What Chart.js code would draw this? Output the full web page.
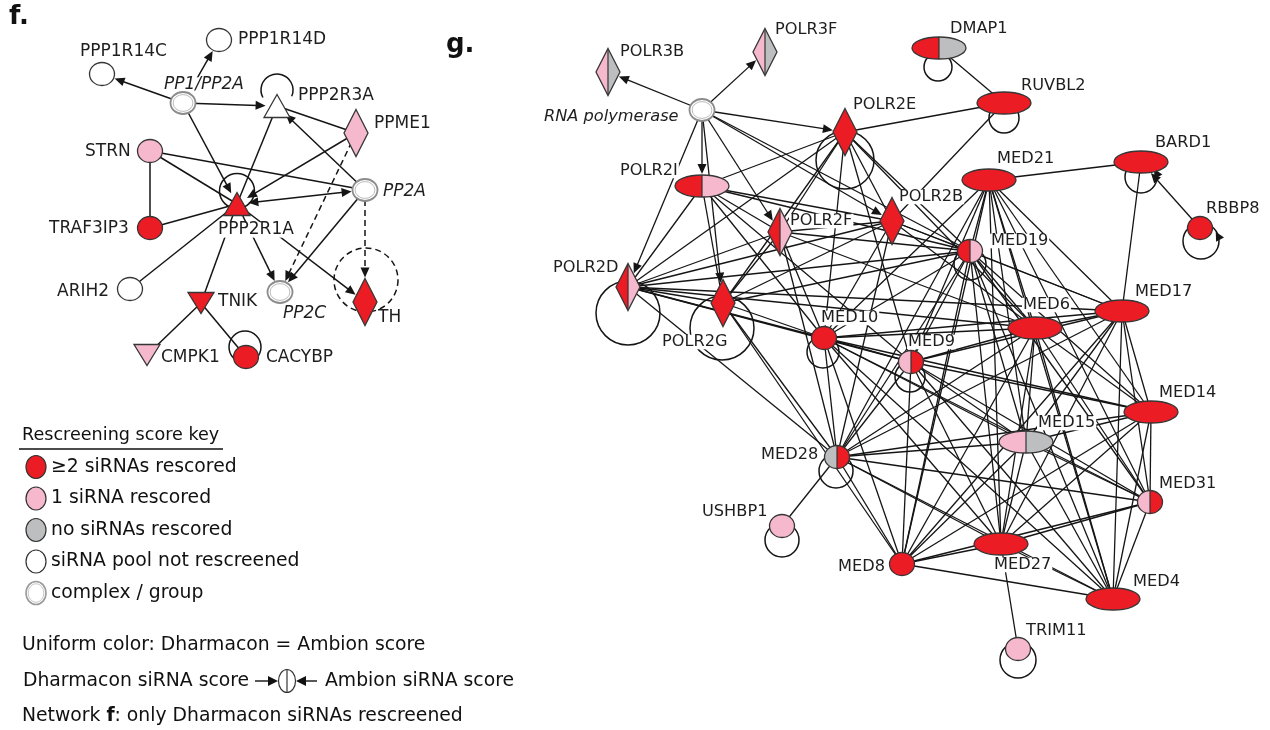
<!DOCTYPE html>
<html>
<head>
<meta charset="utf-8">
<script src="https://cdn.jsdelivr.net/npm/chart.js"></script>
<style>
  html, body { margin: 0; padding: 0; background: #fff; }
  canvas { display: block; }
</style>
</head>
<body>
<canvas id="net" width="1270" height="730"></canvas>
<script>
// ---- nodes (panel f first, then panel g) ----
const nodeNames = ['PPP1R14C','PPP1R14D','PP1/PP2A','PPP2R3A','PPME1','STRN','PP2A','PPP2R1A','TRAF3IP3','ARIH2','TNIK','PP2C','TH','CMPK1','CACYBP',
  'POLR3B','POLR3F','RNA polymerase','POLR2E','DMAP1','RUVBL2','POLR2I','POLR2F','POLR2B','MED21','BARD1','RBBP8','MED19','POLR2D','POLR2G',
  'MED10','MED6','MED17','MED9','MED14','MED15','MED28','MED31','USHBP1','MED27','MED8','MED4','TRIM11'];
const nodeX = [102,219,183,277,356,150,365,237,150,130,201,280,365,147,246,
  608,765,702,845,939,1004,702,780,892,989,1141,1200,970,628,723,
  824,1035,1122,911,1151,1026,837,1150,782,1001,902,1113,1018];
const nodeY = [74,40,103,106,133,151,190,204,228,289,303,292,302,355,357,
  72,52,110,132,48,103,186,232,221,180,162,228,251,287,303,
  338,328,311,362,412,442,457,502,526,544,564,599,649];
const nodeShape = ['circle','circle','complex','triUp','diamond','circle','complex','triUp','circle','circle','triDown','complex','diamond','triDown','circle',
  'diamond','diamond','complex','diamond','ellipse','ellipse','ellipse','diamond','diamond','ellipse','ellipse','circle','circle','diamond','diamond',
  'circle','ellipse','ellipse','circle','ellipse','ellipse','circle','circle','circle','ellipse','circle','ellipse','circle'];
const nodePanel = nodeNames.map((n, i) => i < 15 ? 'f' : 'g');
// 2 = >=2 siRNAs rescored, 1 = 1 siRNA, 0 = none, null = not rescreened / group
const dharmaconScore = [null,null,null,null,1,1,null,2,2,null,2,null,2,1,2,
  1,1,null,2,2,2,2,2,2,2,2,2,2,2,2,2,2,2,1,2,1,0,1,1,2,2,2,1];
const ambionScore = [null,null,null,null,1,1,null,2,2,null,2,null,2,1,2,
  0,0,null,2,0,2,1,1,2,2,2,2,1,1,2,2,2,2,2,2,0,2,2,1,2,2,2,1];
const italicNames = ['PP1/PP2A','PP2A','PP2C','RNA polymerase'];

// ---- edges ----
// '-' plain, '>' arrow at target, '<>' both ends, 'd>' dashed arrow
const edgesF = [
  ['PP1/PP2A','PPP1R14C','>'], ['PP1/PP2A','PPP1R14D','>'], ['PP1/PP2A','PPP2R3A','>'],
  ['PP1/PP2A','PPP2R1A','>'], ['PPME1','PPP2R3A','-'], ['PP2A','PPP2R3A','>'],
  ['PPP2R1A','PPP2R3A','-'], ['PPME1','PPP2R1A','>'], ['PPME1','PP2C','d>'],
  ['STRN','PPP2R1A','-'], ['STRN','PP2A','-'], ['STRN','TRAF3IP3','-'],
  ['TRAF3IP3','PPP2R1A','-'], ['PPP2R1A','PP2A','<>'], ['ARIH2','PPP2R1A','-'],
  ['PPP2R1A','TNIK','-'], ['PPP2R1A','PP2C','>'], ['PPP2R1A','TH','>'],
  ['PP2A','PP2C','>'], ['PP2A','TH','d>'], ['TNIK','CMPK1','-'], ['TNIK','CACYBP','-']
];
const rnaPolTargets = ['POLR3B','POLR3F','POLR2E','POLR2I','POLR2F','POLR2B','POLR2D','POLR2G'];
const polII = ['POLR2I','POLR2F','POLR2B','POLR2E','POLR2D','POLR2G'];
const mediator = ['MED21','MED19','MED10','MED6','MED17','MED9','MED14','MED15','MED28','MED31','MED27','MED8','MED4'];
const polMedLinks = [
  ['POLR2D','MED10'], ['POLR2D','MED19'], ['POLR2D','MED9'], ['POLR2D','MED6'], ['POLR2D','MED17'], ['POLR2D','MED28'],
  ['POLR2G','MED10'], ['POLR2G','MED19'], ['POLR2G','MED28'], ['POLR2G','MED8'],
  ['POLR2I','MED10'], ['POLR2I','MED19'], ['POLR2I','MED9'],
  ['POLR2E','MED10'], ['POLR2E','MED19'], ['POLR2E','MED9'], ['POLR2E','MED6'],
  ['POLR2F','MED19'], ['POLR2F','MED10'], ['POLR2F','MED6'], ['POLR2F','MED28'],
  ['POLR2B','MED19'], ['POLR2B','MED10'], ['POLR2B','MED6'], ['POLR2B','MED28'], ['POLR2B','MED17'],
  ['RNA polymerase','MED19']
];
const otherLinks = [
  ['DMAP1','RUVBL2','-'], ['RUVBL2','POLR2E','-'], ['RUVBL2','POLR2B','-'],
  ['MED21','BARD1','-'], ['BARD1','MED17','-'], ['RBBP8','BARD1','>'],
  ['MED28','USHBP1','-'], ['MED27','TRIM11','-']
];
const selfLoops = ['PPP2R3A','PPP2R1A','TH','CACYBP','DMAP1','RUVBL2','POLR2E','BARD1','RBBP8',
  'MED19','POLR2D','POLR2G','MED10','MED9','MED28','USHBP1','TRIM11'];

// ---- legend ----
const keyLabels = ['\u22652 siRNAs rescored','1 siRNA rescored','no siRNAs rescored','siRNA pool not rescreened','complex / group'];
const keyScores = [2, 1, 0, null, 'group'];

// ---- styling / layout (not data) ----
const RED = '#ec1c24', PINK = '#f5b8cc', GRAY = '#bdbec0', INK = '#151515';
const FONT = '"DejaVu Sans", Verdana, sans-serif';
const shapeSize = {
  circle: [12.5, 11.5], ellipse: [27, 11], diamond: [12, 23.5],
  triUp: [13, 11.5], triDown: [13, 10.5], complex: [12.5, 11]
};
// loop: [dx, dy, r, startDeg, endDeg, dashed, arrow]
const loopStyle = {
  PPP2R3A: [0,-16,16,152,383,false,false], PPP2R1A: [0,-13,17.5,0,360,false,false],
  TH: [1,-22,32,0,360,true,false], CACYBP: [-1,-10,16,0,360,false,false],
  DMAP1: [-1,19,14,0,360,false,false], RUVBL2: [0,15,15,0,360,false,false],
  POLR2E: [0,28,29,0,360,false,false], BARD1: [0,15,16,0,360,false,true],
  RBBP8: [1,13,18,0,360,false,true], MED19: [0,13,16,0,360,false,false],
  POLR2D: [0,26,32,0,360,false,false], POLR2G: [-1,25,32,0,360,false,false],
  MED10: [-1,14,16,0,360,false,false], MED9: [-1,15,15,0,360,false,false],
  MED28: [-1,14,17,0,360,false,false], USHBP1: [0,14,17,0,360,false,false],
  TRIM11: [0,11,18,0,360,false,false]
};
const labelAt = {
  'PPP1R14C':[80,52], 'PPP1R14D':[238,40], 'PP1/PP2A':[164,85], 'PPP2R3A':[298,96], 'PPME1':[374,124],
  'STRN':[85,152], 'PP2A':[383,192], 'PPP2R1A':[218,230], 'TRAF3IP3':[49,229], 'ARIH2':[57,292],
  'TNIK':[218,302], 'PP2C':[283,314], 'TH':[378,318], 'CMPK1':[161,358], 'CACYBP':[266,358],
  'POLR3B':[620,52], 'POLR3F':[775,30], 'RNA polymerase':[544,117], 'POLR2E':[853,105], 'DMAP1':[950,29],
  'RUVBL2':[1021,86], 'POLR2I':[620,171], 'POLR2F':[790,221], 'POLR2B':[899,197], 'MED21':[997,159],
  'BARD1':[1155,143], 'RBBP8':[1206,209], 'MED19':[991,241], 'POLR2D':[553,268], 'POLR2G':[662,342],
  'MED10':[821,318], 'MED6':[1023,305], 'MED17':[1135,292], 'MED9':[908,342], 'MED14':[1159,393],
  'MED15':[1038,423], 'MED28':[761,455], 'MED31':[1159,484], 'USHBP1':[702,512], 'MED27':[994,565],
  'MED8':[838,567], 'MED4':[1133,582], 'TRIM11':[1026,631]
};

function scoreFill(s) { return s === 2 ? RED : s === 1 ? PINK : s === 0 ? GRAY : '#ffffff'; }

function shapePath(ctx, shape, x, y) {
  const [hw, hh] = shapeSize[shape];
  ctx.beginPath();
  if (shape === 'diamond') {
    ctx.moveTo(x, y - hh); ctx.lineTo(x + hw, y); ctx.lineTo(x, y + hh); ctx.lineTo(x - hw, y); ctx.closePath();
  } else if (shape === 'triUp') {
    ctx.moveTo(x, y - hh); ctx.lineTo(x + hw, y + hh); ctx.lineTo(x - hw, y + hh); ctx.closePath();
  } else if (shape === 'triDown') {
    ctx.moveTo(x - hw, y - hh); ctx.lineTo(x + hw, y - hh); ctx.lineTo(x, y + hh); ctx.closePath();
  } else {
    ctx.ellipse(x, y, hw, hh, 0, 0, Math.PI * 2);
  }
}

function drawNode(ctx, shape, x, y, left, right) {
  const [hw, hh] = shapeSize[shape];
  if (shape === 'complex') {
    ctx.fillStyle = '#fff';
    shapePath(ctx, 'complex', x, y); ctx.fill();
    ctx.lineWidth = 1.8; ctx.strokeStyle = '#8c8c8c'; ctx.stroke();
    ctx.beginPath(); ctx.ellipse(x, y, hw - 2.6, hh - 2.6, 0, 0, Math.PI * 2);
    ctx.lineWidth = 1; ctx.strokeStyle = '#bdbdbd'; ctx.stroke();
    return;
  }
  ctx.save();
  shapePath(ctx, shape, x, y);
  ctx.clip();
  ctx.fillStyle = scoreFill(left);
  ctx.fillRect(x - hw - 2, y - hh - 2, hw + 2, 2 * hh + 4);
  ctx.fillStyle = scoreFill(right);
  ctx.fillRect(x, y - hh - 2, hw + 2, 2 * hh + 4);
  if (left !== right) {
    ctx.beginPath(); ctx.moveTo(x, y - hh); ctx.lineTo(x, y + hh);
    ctx.lineWidth = 1.2; ctx.strokeStyle = '#333'; ctx.stroke();
  }
  ctx.restore();
  shapePath(ctx, shape, x, y);
  ctx.lineWidth = 1.3; ctx.strokeStyle = '#363636'; ctx.stroke();
}

function boundaryDist(shape, ux, uy) {
  const [hw, hh] = shapeSize[shape];
  if (shape === 'diamond') return 1 / (Math.abs(ux) / hw + Math.abs(uy) / hh);
  if (shape === 'triUp' || shape === 'triDown') return 1 / Math.sqrt((ux / (hw * 0.8)) ** 2 + (uy / hh) ** 2);
  return 1 / Math.sqrt((ux / hw) ** 2 + (uy / hh) ** 2);
}

function arrowHead(ctx, x, y, ang, len, w) {
  const c = Math.cos(ang), s = Math.sin(ang);
  ctx.beginPath();
  ctx.moveTo(x, y);
  ctx.lineTo(x - len * c + w * s, y - len * s - w * c);
  ctx.lineTo(x - len * c - w * s, y - len * s + w * c);
  ctx.closePath();
  ctx.fill();
}

const networkPlugin = {
  id: 'network',
  afterDatasetsDraw(chart) {
    const ctx = chart.ctx;
    const sx = chart.scales.x, sy = chart.scales.y;
    const X = v => sx.getPixelForValue(v), Y = v => sy.getPixelForValue(v);
    const pts = chart.getDatasetMeta(0).data;
    const idx = name => nodeNames.indexOf(name);
    const P = name => { const e = pts[idx(name)]; return { x: e.x, y: e.y }; };

    // build the edge table
    const edges = edgesF.slice();
    rnaPolTargets.forEach(t => edges.push(['RNA polymerase', t, '>']));
    for (let i = 0; i < polII.length; i++)
      for (let j = i + 1; j < polII.length; j++) edges.push([polII[i], polII[j], '-']);
    polMedLinks.forEach(l => edges.push([l[0], l[1], '-']));
    for (let i = 0; i < mediator.length; i++)
      for (let j = i + 1; j < mediator.length; j++) edges.push([mediator[i], mediator[j], '-']);
    otherLinks.forEach(l => edges.push(l));

    ctx.save();
    ctx.strokeStyle = INK; ctx.fillStyle = INK; ctx.lineCap = 'butt';
    edges.forEach(([a, b, kind]) => {
      const p = P(a), q = P(b);
      const dx = q.x - p.x, dy = q.y - p.y, d = Math.hypot(dx, dy);
      const ux = dx / d, uy = dy / d, ang = Math.atan2(dy, dx);
      let sxp = p.x, syp = p.y, exp = q.x, eyp = q.y;
      const len = 10, w = 4.5;
      const arrowEnd = kind === '>' || kind === '<>' || kind === 'd>';
      const arrowStart = kind === '<>';
      let tipE, tipS;
      if (arrowEnd) {
        const bd = boundaryDist(nodeShape[idx(b)], ux, uy) + 1;
        tipE = { x: q.x - ux * bd, y: q.y - uy * bd };
        exp = tipE.x - ux * len * 0.8; eyp = tipE.y - uy * len * 0.8;
      }
      if (arrowStart) {
        const bd = boundaryDist(nodeShape[idx(a)], -ux, -uy) + 1;
        tipS = { x: p.x + ux * bd, y: p.y + uy * bd };
        sxp = tipS.x + ux * len * 0.8; syp = tipS.y + uy * len * 0.8;
      }
      ctx.lineWidth = nodePanel[idx(a)] === 'f' ? 1.5 : 1.3;
      ctx.setLineDash(kind === 'd>' ? [6, 4] : []);
      ctx.beginPath(); ctx.moveTo(sxp, syp); ctx.lineTo(exp, eyp); ctx.stroke();
      ctx.setLineDash([]);
      if (arrowEnd) arrowHead(ctx, tipE.x, tipE.y, ang, len, w);
      if (arrowStart) arrowHead(ctx, tipS.x, tipS.y, ang + Math.PI, len, w);
    });

    // self loops
    selfLoops.forEach(name => {
      const p = P(name);
      const [ox, oy, r, a0, a1, dashed, arrow] = loopStyle[name];
      const cx = p.x + ox, cy = p.y + oy;
      ctx.lineWidth = 1.5;
      ctx.setLineDash(dashed ? [6, 4] : []);
      ctx.beginPath();
      ctx.arc(cx, cy, r, a0 * Math.PI / 180, a1 * Math.PI / 180);
      ctx.stroke();
      ctx.setLineDash([]);
      if (arrow) {
        // arrow where the loop re-enters the node on its right side
        const t = -35 * Math.PI / 180;
        const ax = cx + r * Math.cos(t), ay = cy + r * Math.sin(t) + 3;
        arrowHead(ctx, ax, ay - 2, -Math.PI / 2 - 0.5, 9, 4.5);
      }
    });

    // labels with white backing
    nodeNames.forEach(name => {
      const i = idx(name);
      const size = nodePanel[i] === 'f' ? 17 : 16.2;
      ctx.font = (italicNames.includes(name) ? 'italic ' : '') + size + 'px ' + FONT;
      ctx.textBaseline = 'middle'; ctx.textAlign = 'left';
      const [lx, ly] = labelAt[name];
      const tw = ctx.measureText(name).width;
      ctx.fillStyle = '#fff';
      ctx.fillRect(X(lx) - 1, Y(ly) - size * 0.45, tw + 2, size * 0.9);
      ctx.fillStyle = '#1e1e1e';
      ctx.fillText(name, X(lx), Y(ly));
    });

    // nodes
    nodeNames.forEach((name, i) => {
      drawNode(ctx, nodeShape[i], pts[i].x, pts[i].y, dharmaconScore[i], ambionScore[i]);
    });

    // panel letters
    ctx.fillStyle = '#111';
    ctx.font = 'bold 26px ' + FONT;
    ctx.textBaseline = 'middle';
    ctx.fillText('f.', X(9), Y(17));
    ctx.fillText('g.', X(446), Y(45));

    // legend
    ctx.font = '17.6px ' + FONT;
    ctx.fillStyle = '#111';
    ctx.fillText('Rescreening score key', X(22), Y(435));
    ctx.beginPath(); ctx.moveTo(X(19), Y(449)); ctx.lineTo(X(223), Y(449));
    ctx.lineWidth = 1.6; ctx.strokeStyle = '#111'; ctx.stroke();
    ctx.font = '18.8px ' + FONT;
    keyLabels.forEach((lab, k) => {
      const ky = Y(467 + k * 31.5);
      if (keyScores[k] === 'group') {
        ctx.beginPath(); ctx.ellipse(X(36), ky, 10, 11.5, 0, 0, Math.PI * 2);
        ctx.fillStyle = '#fff'; ctx.fill();
        ctx.lineWidth = 1.6; ctx.strokeStyle = '#9a9a9a'; ctx.stroke();
        ctx.beginPath(); ctx.ellipse(X(36), ky, 7.8, 9.3, 0, 0, Math.PI * 2);
        ctx.lineWidth = 1; ctx.strokeStyle = '#c8c8c8'; ctx.stroke();
      } else {
        ctx.beginPath(); ctx.ellipse(X(36), ky, 10, 11.5, 0, 0, Math.PI * 2);
        ctx.fillStyle = scoreFill(keyScores[k]); ctx.fill();
        ctx.lineWidth = 1.2; ctx.strokeStyle = '#333'; ctx.stroke();
      }
      ctx.fillStyle = '#111';
      ctx.fillText(lab, X(51), ky);
    });
    ctx.fillText('Uniform color: Dharmacon = Ambion score', X(22), Y(645));
    ctx.fillText('Dharmacon siRNA score', X(23), Y(681));
    ctx.fillText('Ambion siRNA score', X(325), Y(681));
    // split-circle key
    ctx.strokeStyle = '#111'; ctx.lineWidth = 1.4;
    ctx.beginPath(); ctx.moveTo(X(255), Y(681)); ctx.lineTo(X(270), Y(681)); ctx.stroke();
    arrowHead(ctx, X(278), Y(681), 0, 10, 5);
    ctx.beginPath(); ctx.moveTo(X(317), Y(681)); ctx.lineTo(X(304), Y(681)); ctx.stroke();
    arrowHead(ctx, X(296), Y(681), Math.PI, 10, 5);
    ctx.beginPath(); ctx.ellipse(X(287), Y(681), 8.5, 11.5, 0, 0, Math.PI * 2);
    ctx.fillStyle = '#fff'; ctx.fill(); ctx.lineWidth = 1.2; ctx.strokeStyle = '#333'; ctx.stroke();
    ctx.beginPath(); ctx.moveTo(X(287), Y(669.5)); ctx.lineTo(X(287), Y(692.5)); ctx.stroke();
    // last line with bold f
    ctx.fillStyle = '#111';
    const part1 = 'Network ';
    ctx.fillText(part1, X(22), Y(716));
    let wx = X(22) + ctx.measureText(part1).width;
    ctx.font = 'bold 18.8px ' + FONT;
    ctx.fillText('f', wx, Y(716));
    wx += ctx.measureText('f').width;
    ctx.font = '18.8px ' + FONT;
    ctx.fillText(': only Dharmacon siRNAs rescreened', wx, Y(716));
    ctx.restore();
  }
};

new Chart(document.getElementById('net'), {
  type: 'scatter',
  data: {
    datasets: [{
      label: 'genes',
      data: nodeNames.map((n, i) => ({ x: nodeX[i], y: nodeY[i] })),
      pointRadius: 0,
      pointHoverRadius: 0
    }]
  },
  options: {
    responsive: false,
    animation: false,
    events: [],
    layout: { padding: 0 },
    scales: {
      x: { type: 'linear', min: 0, max: 1270, display: false },
      y: { type: 'linear', min: 0, max: 730, reverse: true, display: false }
    },
    plugins: { legend: { display: false }, tooltip: { enabled: false } }
  },
  plugins: [networkPlugin]
});
</script>
</body>
</html>
